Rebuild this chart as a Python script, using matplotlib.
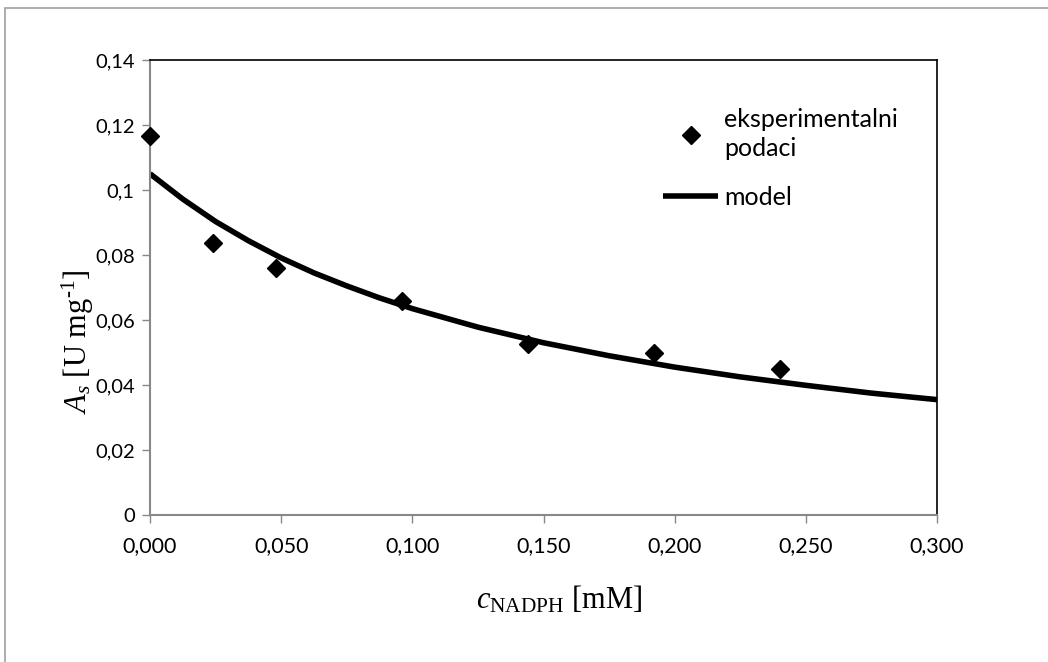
import matplotlib
matplotlib.use("Agg")
from matplotlib import pyplot as plt
from matplotlib.patches import Rectangle

# experimental points
c_exp = [0.000, 0.024, 0.048, 0.096, 0.144, 0.192, 0.240]
a_exp = [0.1165, 0.0838, 0.0759, 0.0660, 0.0525, 0.0497, 0.0450]

# model curve
c_model = [0.000, 0.0125, 0.025, 0.0375, 0.050, 0.0625, 0.075, 0.0875, 0.100, 0.125,
           0.150, 0.175, 0.200, 0.225, 0.250, 0.275, 0.300]
a_model = [0.1050, 0.0972, 0.0903, 0.0844, 0.0791, 0.0745, 0.0705, 0.0668, 0.0635, 0.0578,
           0.0530, 0.0490, 0.0455, 0.0425, 0.0399, 0.0375, 0.0355]

x_ticks = [0.0, 0.05, 0.10, 0.15, 0.20, 0.25, 0.30]
y_ticks = [0.0, 0.02, 0.04, 0.06, 0.08, 0.10, 0.12, 0.14]
y_tick_labels = ['0', '0,02', '0,04', '0,06', '0,08', '0,1', '0,12', '0,14']

plt.rcParams['mathtext.fontset'] = 'custom'
plt.rcParams['mathtext.rm'] = 'Liberation Serif'
plt.rcParams['mathtext.it'] = 'Liberation Serif:italic'

fig = plt.figure(figsize=(10.48, 6.62), dpi=100)
ax = fig.add_axes([150 / 1048, 1 - 515 / 662, 787 / 1048, 455 / 662])

# chart-area border (only top/left visible in the original crop)
fig.patches.append(Rectangle((5 / 1048, -0.2), 1.2, 1.2 - 8 / 662,
                             transform=fig.transFigure, fill=False,
                             edgecolor='#a0a0a0', linewidth=1.2))

ax.plot(c_exp, a_exp, linestyle='none', marker='D', markersize=9,
        color='black', label='eksperimentalni\npodaci', clip_on=False, zorder=3)
ax.plot(c_model, a_model, color='black', linewidth=4, label='model',
        solid_capstyle='butt', solid_joinstyle='round', zorder=2)

ax.set_xlim(0, 0.3)
ax.set_ylim(0, 0.14)
ax.set_xticks(x_ticks)
ax.set_yticks(y_ticks)
ax.set_xticklabels([f"{v:.3f}".replace('.', ',') for v in x_ticks])
ax.set_yticklabels(y_tick_labels)

for lab in ax.get_xticklabels():
    lab.set_fontfamily('Lato')
    lab.set_fontsize(15.5)
for lab in ax.get_yticklabels():
    lab.set_fontfamily('Lato')
    lab.set_fontsize(14.5)

ax.tick_params(direction='out', length=6, width=1, color='#888888')
ax.tick_params(axis='x', pad=9)
ax.tick_params(axis='y', pad=5)
ax.spines['left'].set_color('#888888')
ax.spines['bottom'].set_color('#888888')
ax.spines['left'].set_linewidth(1.5)
ax.spines['bottom'].set_linewidth(1.5)
ax.spines['top'].set_color('black')
ax.spines['right'].set_color('black')
ax.spines['top'].set_linewidth(1.2)
ax.spines['right'].set_linewidth(1.2)

ax.set_xlabel(r'$\mathit{c}_{\mathrm{NADPH}}$ [mM]', fontsize=22,
              fontfamily='Liberation Serif')
ax.set_ylabel(r'$\mathit{A}_{\mathit{s}}$ [U mg$^{\text{-1}}$]', fontsize=22,
              fontfamily='Liberation Serif')
ax.xaxis.label.set_va('center')
ax.yaxis.label.set_va('center')
ax.xaxis.set_label_coords(0.52, -0.187)
ax.yaxis.set_label_coords(-0.092, 0.38)

leg = ax.legend(loc='upper left', bbox_to_anchor=(0.652, 0.894), frameon=False,
                prop={'family': 'Lato', 'size': 18}, handlelength=2.2,
                handletextpad=0.25, labelspacing=1.05, borderpad=0, borderaxespad=0)
for t in leg.get_texts():
    t.set_linespacing(1.3)

fig.savefig('out.png', dpi=100, facecolor='white')
